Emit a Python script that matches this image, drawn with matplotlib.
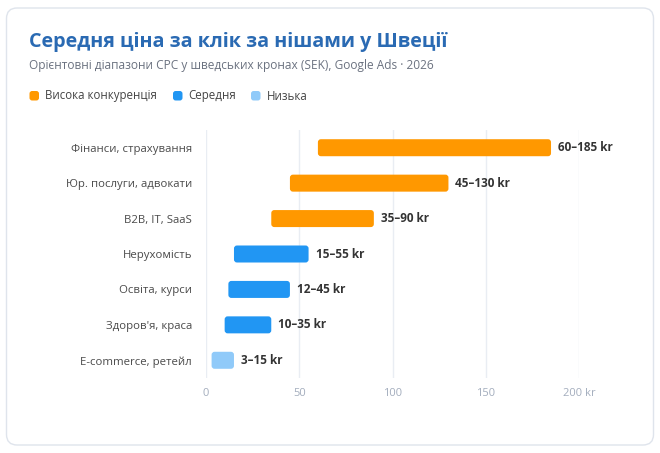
import matplotlib.pyplot as plt
from matplotlib.patches import FancyBboxPatch

plt.rcParams['font.family'] = ['Open Sans', 'DejaVu Sans']

# дані (SEK за клік)
niches = ['Фінанси, страхування', 'Юр. послуги, адвокати', 'B2B, IT, SaaS',
          'Нерухомість', 'Освіта, курси', "Здоров'я, краса", 'E-commerce, ретейл']
cpc_low = [60, 45, 35, 15, 12, 10, 3]
cpc_high = [185, 130, 90, 55, 45, 35, 15]
level = ['high', 'high', 'high', 'mid', 'mid', 'mid', 'low']
x_ticks = [0, 50, 100, 150, 200]
x_ticklabels = ['0', '50', '100', '150', '200 kr']

colors = {'high': '#ff9800', 'mid': '#2196f3', 'low': '#90caf9'}
legend_names = [('high', 'Висока конкуренція'), ('mid', 'Середня'), ('low', 'Низька')]

W, H = 660, 453
fig = plt.figure(figsize=(W / 100, H / 100), dpi=100)
fig.patch.set_facecolor('white')

def fx(px):
    return px / W

def fy(py):
    return 1 - py / H

# картка
card = FancyBboxPatch((fx(6.5), fy(445)), fx(647), (437) / H,
                      boxstyle='round,pad=0,rounding_size=0.016',
                      transform=fig.transFigure, facecolor='white',
                      edgecolor='#dfe4ec', lw=1, mutation_aspect=W / H, zorder=-5)
fig.patches.append(card)

fig.text(fx(29), fy(41.5), 'Середня ціна за клік за нішами у Швеції', fontsize=14.2,
         fontweight='bold', color='#2a6ab3', va='center', ha='left')
fig.text(fx(29), fy(66), 'Орієнтовні діапазони CPC у шведських кронах (SEK), Google Ads · 2026',
         fontsize=8.6, color='#6b7280', va='center', ha='left')

# легенда
leg_x = [29.5, 173, 251]
for (key, name), x0 in zip(legend_names, leg_x):
    sq = FancyBboxPatch((fx(x0), fy(100.5)), fx(9.5), 9.5 / H,
                        boxstyle='round,pad=0,rounding_size=0.004',
                        transform=fig.transFigure, facecolor=colors[key],
                        edgecolor='none', mutation_aspect=W / H)
    fig.patches.append(sq)
    fig.text(fx(x0 + 15.5), fy(96), name, fontsize=8.3, color='#444444',
             va='center', ha='left')

ax = fig.add_axes([fx(206), fy(378), 373 / W, 248 / H])
ax.set_facecolor('none')
y = list(range(len(niches)))[::-1]
bars = ax.barh(y, [h - l for l, h in zip(cpc_low, cpc_high)], left=cpc_low,
               height=0.48, color=[colors[k] for k in level])
ax.set_xlim(0, 200)
ax.set_ylim(-0.5, len(niches) - 0.5)

# заокруглені кути
for b in bars:
    b.set_visible(False)
    rb = FancyBboxPatch((b.get_x(), b.get_y()), b.get_width(), b.get_height(),
                        boxstyle='round,pad=0,rounding_size=1.6',
                        mutation_aspect=1.866 / 35.4,
                        facecolor=b.get_facecolor(), edgecolor='none')
    ax.add_patch(rb)

for yi, l, h in zip(y, cpc_low, cpc_high):
    ax.annotate(f'{l}–{h} kr', (h, yi), xytext=(5, 0), textcoords='offset points',
                va='center', ha='left', fontsize=8.5, fontweight='bold', color='#333333')

ax.set_yticks(y)
ax.set_yticklabels(niches, fontsize=8.2, color='#4a4a4a')
ax.set_xticks(x_ticks)
ax.set_xticklabels(x_ticklabels, fontsize=8, color='#a3adbd')
ax.tick_params(axis='y', length=0, pad=10)
ax.tick_params(axis='x', length=0, pad=7.5)
ax.grid(axis='x', color='#e9edf3', lw=1)
ax.set_axisbelow(True)
for s in ax.spines.values():
    s.set_visible(False)

fig.savefig('out.png', dpi=100, facecolor='white')
